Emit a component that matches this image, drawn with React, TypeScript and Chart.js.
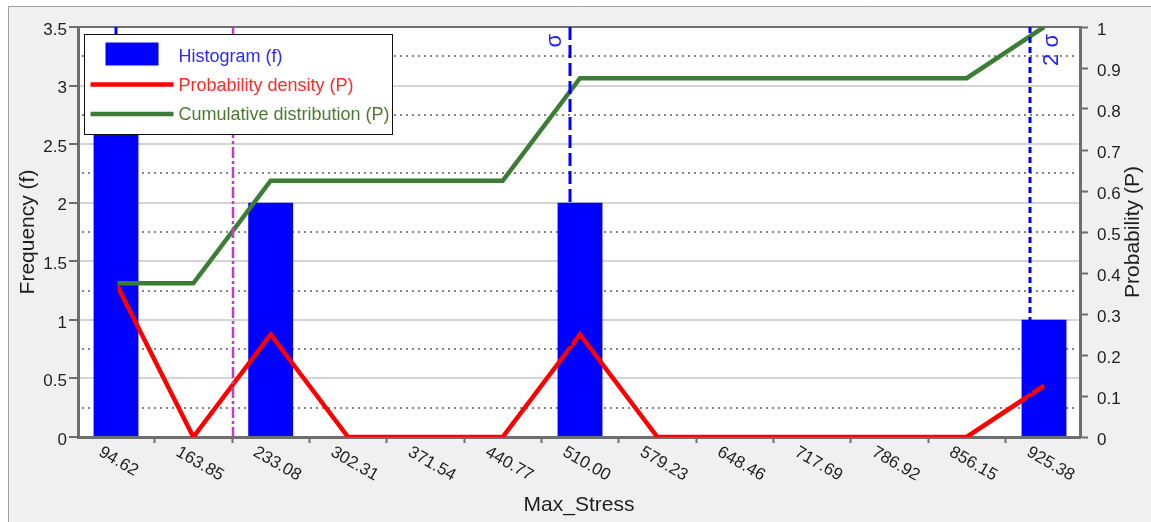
import React, { useEffect, useRef } from 'react';
import { Chart, registerables } from 'chart.js';

Chart.register(...registerables);

// ---------- data ----------
const X_VALUES = [94.62, 163.85, 233.08, 302.31, 371.54, 440.77, 510.0, 579.23, 648.46, 717.69, 786.92, 856.15, 925.38];
const X_LABELS = ['94.62', '163.85', '233.08', '302.31', '371.54', '440.77', '510.00', '579.23', '648.46', '717.69', '786.92', '856.15', '925.38'];
const HISTOGRAM = [3, 0, 2, 0, 0, 0, 2, 0, 0, 0, 0, 0, 1];
const DENSITY = [0.375, 0, 0.25, 0, 0, 0, 0.25, 0, 0, 0, 0, 0, 0.125];
const CUMULATIVE = [0.375, 0.375, 0.625, 0.625, 0.625, 0.625, 0.875, 0.875, 0.875, 0.875, 0.875, 0.875, 1];
const SERIES_LABELS = ['Histogram (f)', 'Probability density (P)', 'Cumulative distribution (P)'];
const REF_VALUES = [94.62, 199.4, 501.1, 912.9];
const REF_LABELS = ['', '', 'σ', '2 σ'];
const X_RANGE = [60.6, 957.6];
const FREQ_RANGE = [0, 3.5];
const PROB_RANGE = [0, 1];
const AXIS_TITLES = ['Max_Stress', 'Frequency (f)', 'Probability (P)'];

// ---------- styles ----------
const FONT = '"Liberation Sans", Arial, sans-serif';
const AXIS_COLOR = '#6e6e6e';
const TEXT_COLOR = '#1e1e1e';
const SERIES_COLORS = ['#0000ff', '#ff0000', '#3b7d34'];
const LEGEND_TEXT_COLORS = ['#2a2aff', '#ff2a2a', '#4a7a2e'];
const REF_STYLES = [
  { color: '#0000ff', width: 3, dash: [13, 5], labelDx: -15 },
  { color: '#c03cc8', width: 2.5, dash: [11, 3, 3, 3], labelDx: -15 },
  { color: '#0000ff', width: 3, dash: [13, 5], labelDx: -15 },
  { color: '#0000ff', width: 3, dash: [6, 4], labelDx: 22 },
];

const pts = (ys: number[]) => X_VALUES.map((x, i) => ({ x, y: ys[i] }));
const fmt = (v: any) => String(+Number(v).toFixed(2));

const customPlugin = {
  id: 'customDecor',
  beforeDraw(chart: any) {
    const { ctx, width, height, chartArea: a } = chart;
    ctx.save();
    ctx.fillStyle = '#ffffff';
    ctx.fillRect(0, 0, width, height);
    ctx.fillStyle = '#f0f0f0';
    ctx.fillRect(8, 6, width - 8, height - 6);
    ctx.strokeStyle = '#a0a0a0';
    ctx.lineWidth = 1;
    ctx.beginPath();
    ctx.moveTo(8.5, height);
    ctx.lineTo(8.5, 6.5);
    ctx.lineTo(width, 6.5);
    ctx.stroke();
    ctx.fillStyle = '#ffffff';
    ctx.fillRect(a.left, a.top, a.right - a.left, a.bottom - a.top);
    ctx.restore();
  },
  beforeDatasetsDraw(chart: any) {
    const { ctx, chartArea: a } = chart;
    const y = chart.scales.y;
    ctx.save();
    ctx.strokeStyle = '#858585';
    ctx.lineWidth = 2;
    ctx.setLineDash([2, 4]);
    for (let v = 0.25; v < FREQ_RANGE[1]; v += 0.5) {
      const py = Math.round(y.getPixelForValue(v));
      ctx.beginPath();
      ctx.moveTo(a.left + 4, py);
      ctx.lineTo(a.right - 2, py);
      ctx.stroke();
    }
    ctx.setLineDash([]);
    ctx.strokeStyle = AXIS_COLOR;
    ctx.lineWidth = 2;
    ctx.beginPath();
    ctx.moveTo(a.left, a.top);
    ctx.lineTo(a.right, a.top);
    ctx.stroke();
    ctx.restore();
  },
  afterDatasetsDraw(chart: any) {
    const { ctx, chartArea: a } = chart;
    const x = chart.scales.x;
    ctx.save();
    REF_VALUES.forEach((v, i) => {
      const st = REF_STYLES[i];
      const px = Math.round(x.getPixelForValue(v));
      ctx.strokeStyle = st.color;
      ctx.lineWidth = st.width;
      ctx.setLineDash(st.dash);
      ctx.beginPath();
      ctx.moveTo(px, a.top);
      ctx.lineTo(px, a.bottom);
      ctx.stroke();
      if (REF_LABELS[i]) {
        ctx.save();
        ctx.setLineDash([]);
        ctx.translate(px + st.labelDx, a.top + 7);
        ctx.rotate(-Math.PI / 2);
        ctx.fillStyle = '#2020ff';
        ctx.font = `22px ${FONT}`;
        ctx.textAlign = 'right';
        ctx.textBaseline = 'middle';
        ctx.fillText(REF_LABELS[i], 0, 0);
        ctx.restore();
      }
    });
    ctx.restore();
  },
  afterDraw(chart: any) {
    const { ctx, chartArea: a } = chart;
    const x = chart.scales.x;
    ctx.save();
    // x tick labels, rotated clockwise
    ctx.fillStyle = TEXT_COLOR;
    ctx.font = `17px ${FONT}`;
    ctx.textAlign = 'left';
    ctx.textBaseline = 'middle';
    X_VALUES.forEach((v, i) => {
      const px = x.getPixelForValue(v);
      ctx.save();
      ctx.translate(px - 16, a.bottom + 14);
      ctx.rotate(Math.PI / 6);
      ctx.fillText(X_LABELS[i], 0, 0);
      ctx.restore();
    });
    // right axis title (reads bottom to top)
    ctx.save();
    ctx.translate(1133, (a.top + a.bottom) / 2);
    ctx.rotate(-Math.PI / 2);
    ctx.font = `21px ${FONT}`;
    ctx.textAlign = 'center';
    ctx.textBaseline = 'middle';
    ctx.fillText(AXIS_TITLES[2], 0, 0);
    ctx.restore();
    // legend
    const lx = a.left + 6.5;
    const ly = a.top + 7.5;
    ctx.fillStyle = '#ffffff';
    ctx.fillRect(lx, ly, 308, 100);
    ctx.strokeStyle = '#111111';
    ctx.lineWidth = 1;
    ctx.strokeRect(lx, ly, 308, 100);
    ctx.fillStyle = SERIES_COLORS[0];
    ctx.fillRect(lx + 21, ly + 8, 53, 23);
    ctx.lineWidth = 4.5;
    ctx.strokeStyle = SERIES_COLORS[1];
    ctx.beginPath();
    ctx.moveTo(lx + 6, ly + 50);
    ctx.lineTo(lx + 89, ly + 50);
    ctx.stroke();
    ctx.strokeStyle = SERIES_COLORS[2];
    ctx.beginPath();
    ctx.moveTo(lx + 6, ly + 79.5);
    ctx.lineTo(lx + 89, ly + 79.5);
    ctx.stroke();
    ctx.font = `18px ${FONT}`;
    ctx.textAlign = 'left';
    ctx.textBaseline = 'middle';
    const ty = [ly + 23, ly + 52, ly + 81];
    SERIES_LABELS.forEach((t, i) => {
      ctx.fillStyle = LEGEND_TEXT_COLORS[i];
      ctx.fillText(t, lx + 94, ty[i]);
    });
    ctx.restore();
  },
};

export default function App() {
  const canvasRef = useRef<HTMLCanvasElement | null>(null);

  useEffect(() => {
    document.body.style.margin = '0';
    const canvas = canvasRef.current;
    if (!canvas) return;
    Chart.defaults.font.family = FONT;
    const chart = new Chart(canvas, {
      type: 'bar',
      data: {
        datasets: [
          {
            type: 'bar',
            label: SERIES_LABELS[0],
            data: pts(HISTOGRAM),
            backgroundColor: SERIES_COLORS[0],
            borderWidth: 0,
            barPercentage: 0.58,
            categoryPercentage: 1,
            yAxisID: 'y',
            order: 3,
          } as any,
          {
            type: 'line',
            label: SERIES_LABELS[1],
            data: pts(DENSITY),
            borderColor: SERIES_COLORS[1],
            backgroundColor: SERIES_COLORS[1],
            borderWidth: 4.5,
            pointRadius: 0,
            tension: 0,
            yAxisID: 'y1',
            order: 2,
          },
          {
            type: 'line',
            label: SERIES_LABELS[2],
            data: pts(CUMULATIVE),
            borderColor: SERIES_COLORS[2],
            backgroundColor: SERIES_COLORS[2],
            borderWidth: 4.5,
            pointRadius: 0,
            tension: 0,
            yAxisID: 'y1',
            order: 1,
          },
        ],
      },
      options: {
        animation: false,
        responsive: true,
        maintainAspectRatio: false,
        devicePixelRatio: 1,
        layout: { padding: { top: 27, left: 0, right: 0, bottom: 0 } },
        plugins: {
          legend: { display: false },
          tooltip: { enabled: false },
        },
        scales: {
          x: {
            type: 'linear',
            min: X_RANGE[0],
            max: X_RANGE[1],
            offset: false,
            afterBuildTicks: (s: any) => {
              s.ticks = X_VALUES.map((v) => ({ value: v }));
            },
            afterFit: (s: any) => {
              s.height = 85;
            },
            ticks: { display: false, autoSkip: false },
            grid: {
              drawOnChartArea: false,
              drawTicks: true,
              tickLength: 6,
              tickWidth: 2,
              tickColor: AXIS_COLOR,
            },
            border: { color: AXIS_COLOR, width: 3 },
            title: {
              display: true,
              text: AXIS_TITLES[0],
              color: TEXT_COLOR,
              font: { size: 21 },
              padding: { top: 0, bottom: 4 },
            },
          },
          y: {
            type: 'linear',
            position: 'left',
            min: FREQ_RANGE[0],
            max: FREQ_RANGE[1],
            afterFit: (s: any) => {
              s.width = 78;
            },
            ticks: {
              stepSize: 0.5,
              color: TEXT_COLOR,
              font: { size: 17 },
              padding: 2,
              labelOffset: 3,
              callback: fmt,
            },
            grid: {
              color: (c: any) =>
                c.tick && (c.tick.value === FREQ_RANGE[0] || c.tick.value === FREQ_RANGE[1])
                  ? 'rgba(0,0,0,0)'
                  : '#d4d4d4',
              lineWidth: 2,
              tickColor: AXIS_COLOR,
              tickWidth: 2,
              tickLength: 9,
            },
            border: { color: AXIS_COLOR, width: 3 },
            title: {
              display: true,
              text: AXIS_TITLES[1],
              color: TEXT_COLOR,
              font: { size: 21 },
              padding: { top: 16, bottom: 0 },
            },
          },
          y1: {
            type: 'linear',
            position: 'right',
            min: PROB_RANGE[0],
            max: PROB_RANGE[1],
            afterFit: (s: any) => {
              s.width = 71;
            },
            ticks: {
              stepSize: 0.1,
              color: TEXT_COLOR,
              font: { size: 17 },
              padding: 9,
              labelOffset: 3,
              callback: fmt,
            },
            grid: {
              drawOnChartArea: false,
              tickColor: AXIS_COLOR,
              tickWidth: 2,
              tickLength: 8,
            },
            border: { color: AXIS_COLOR, width: 3 },
          },
        },
      },
      plugins: [customPlugin],
    } as any);
    return () => chart.destroy();
  }, []);

  return (
    <div style={{ width: 1151, height: 522, position: 'relative' }}>
      <canvas ref={canvasRef} />
    </div>
  );
}
